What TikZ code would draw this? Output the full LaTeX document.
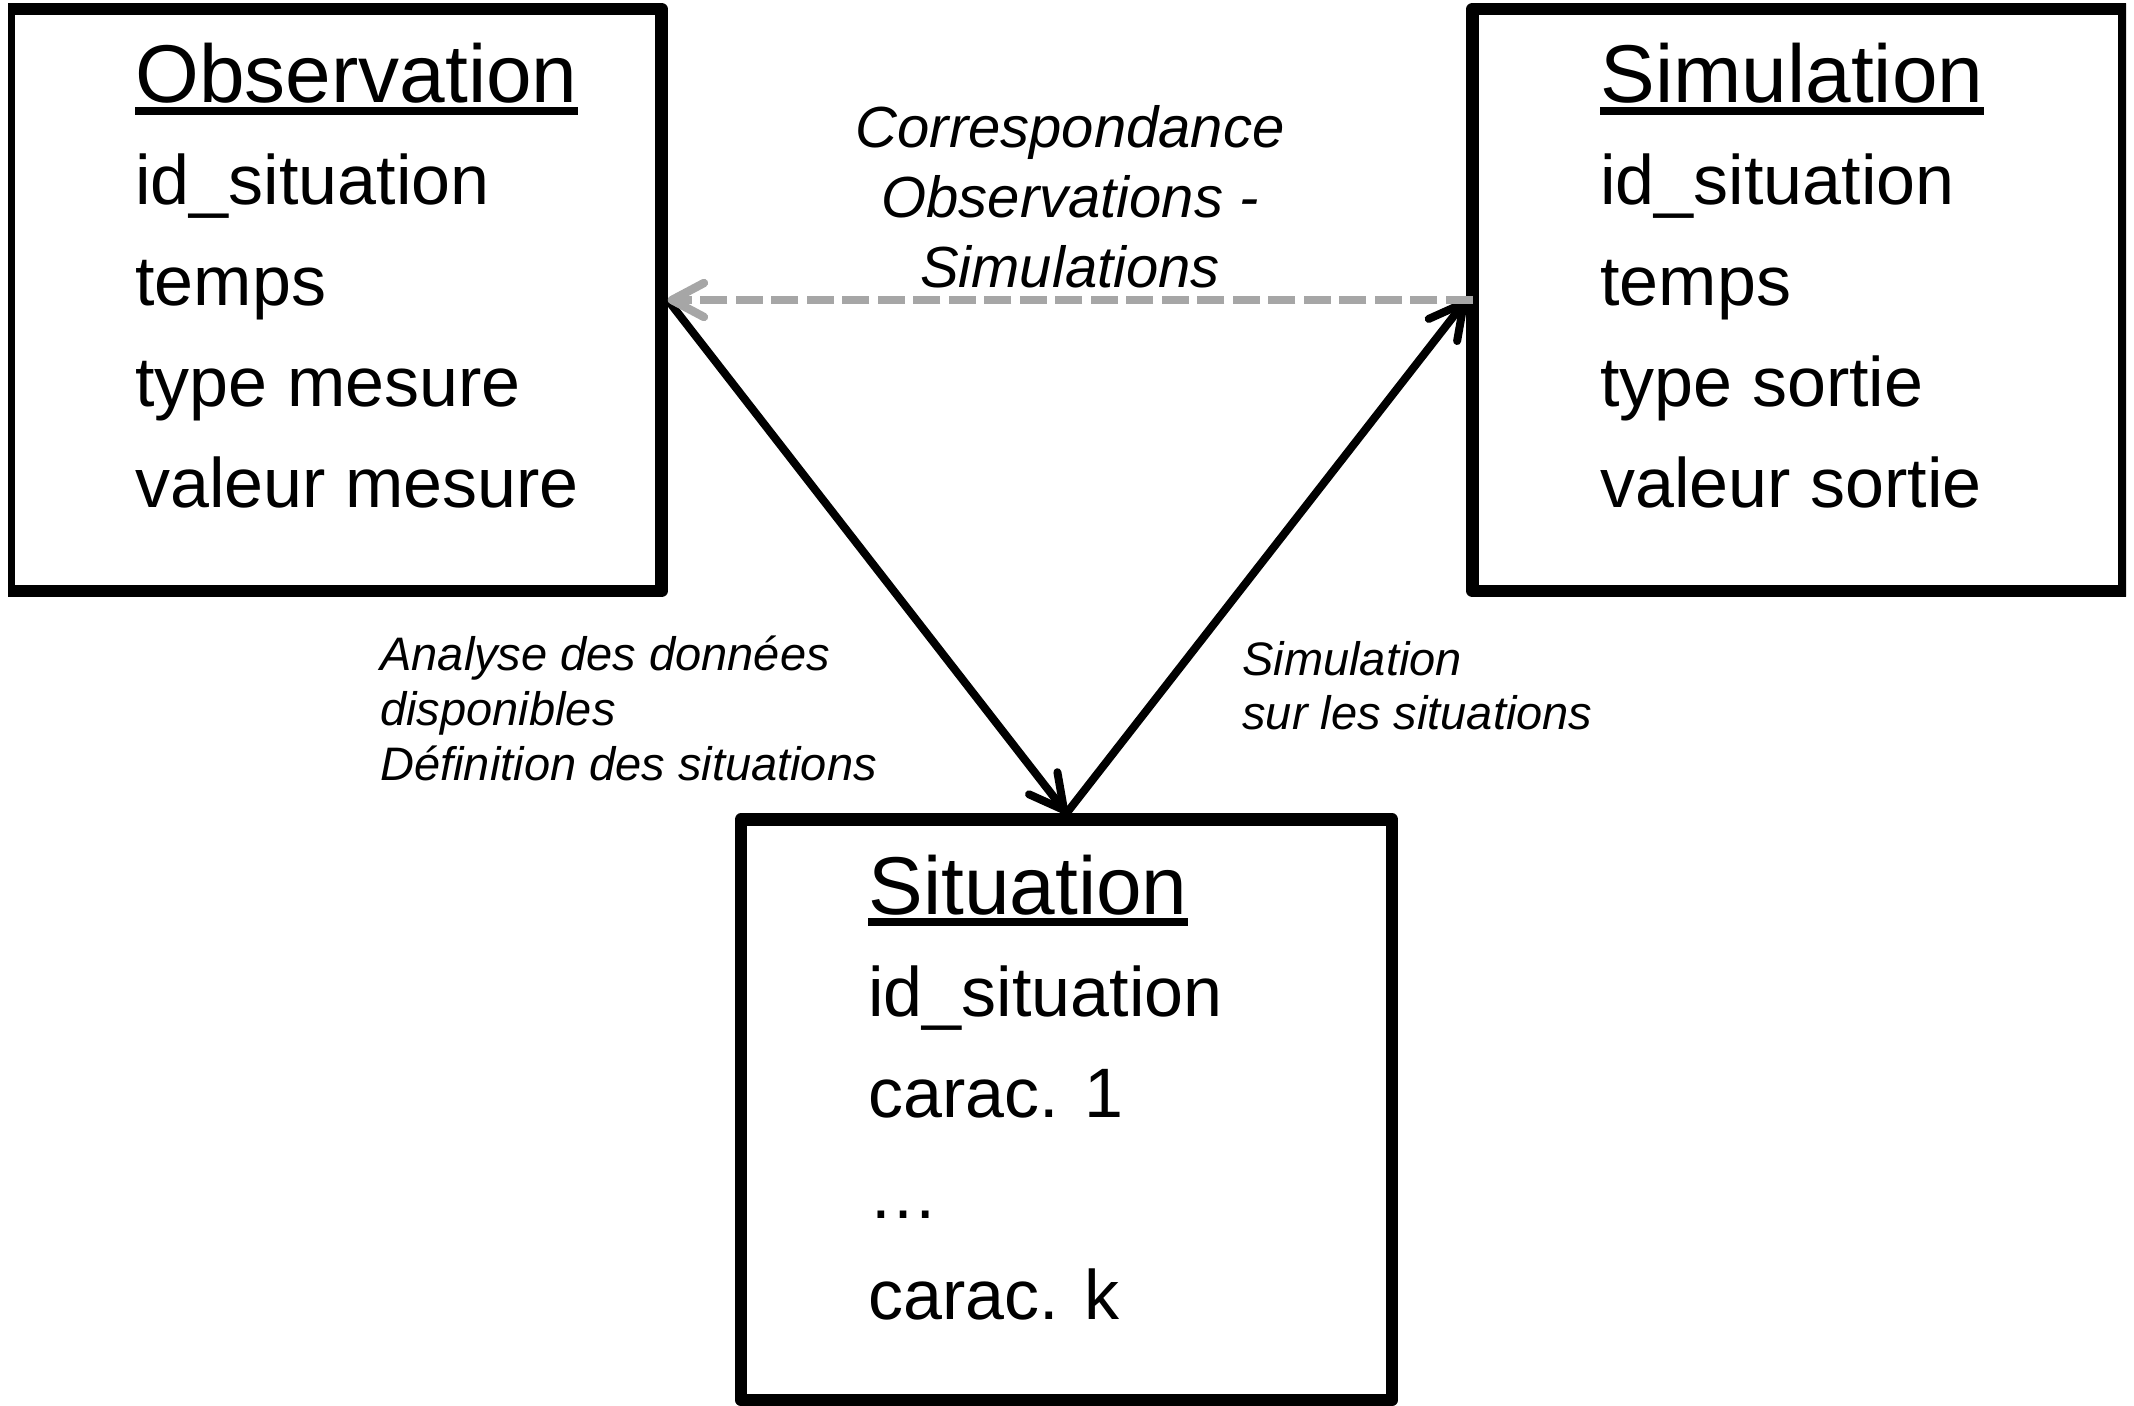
\documentclass[tikz,border=0pt]{standalone}
\usepackage{fontspec}
\setmainfont{Liberation Sans}
\usetikzlibrary{arrows.meta}
\definecolor{dashgray}{HTML}{A6A6A6}
\begin{document}
\begin{tikzpicture}[x=0.5pt,y=-0.5pt,
  box/.style={draw=black, line width=6.25pt, line join=round, inner sep=0pt},
  titletxt/.style={anchor=base west, inner sep=0pt, font=\fontsize{41pt}{49pt}\selectfont},
  attrtxt/.style={anchor=base west, inner sep=0pt, font=\fontsize{35pt}{42pt}\selectfont},
  corrtxt/.style={anchor=base, inner sep=0pt, font=\fontsize{29pt}{35pt}\selectfont\itshape},
  labtxt/.style={anchor=base west, inner sep=0pt, font=\fontsize{23.5pt}{28pt}\selectfont\itshape},
  uline/.style={line width=4pt},
  solidarrow/.style={draw=black, line width=4pt, -{Straight Barb[length=17pt,width=18pt,round]}},
  dasharrow/.style={draw=dashgray, line width=4.2pt, dash pattern=on 13.5pt off 4.25pt, -{Straight Barb[length=16pt,width=17pt,round]}}
]
\useasboundingbox (0,0) rectangle (2134,1406);
\begin{scope}
\clip (8,0) rectangle (2126,1406);
\node[box, minimum width=326.4pt, minimum height=291pt] (obs) at (335.1,300) {};
\node[box, minimum width=325.9pt, minimum height=291pt] (sim) at (1798.4,300) {};
\node[box, minimum width=325.5pt, minimum height=290.25pt] (sit) at (1066.5,1109.75) {};
\end{scope}

% Observation
\node[titletxt] (obsT) at (135,103) {Observation};
\draw[uline] ([yshift=-4pt]obsT.base west) -- ([yshift=-4pt]obsT.base east);
\node[attrtxt] (obsA) at (135,205) {id\_situation};
\node[attrtxt] (obsB) at (135,306) {temps};
\node[attrtxt] (obsC) at (135,407) {type mesure};
\node[attrtxt] (obsD) at (135,508) {valeur mesure};

% Simulation
\node[titletxt] (simT) at (1600,103) {Simulation};
\draw[uline] ([yshift=-4pt]simT.base west) -- ([yshift=-4pt]simT.base east);
\node[attrtxt] (simA) at (1600,205) {id\_situation};
\node[attrtxt] (simB) at (1600,306) {temps};
\node[attrtxt] (simC) at (1600,407) {type sortie};
\node[attrtxt] (simD) at (1600,508) {valeur sortie};

% Situation
\node[titletxt] (sitT) at (868,914) {Situation};
\draw[uline] ([yshift=-4pt]sitT.base west) -- ([yshift=-4pt]sitT.base east);
\node[attrtxt] (sitA) at (868,1016) {id\_situation};
\node[attrtxt] (sitB) at (868,1117) {carac. 1};
\node[attrtxt] (sitC) at (868,1218) {…};
\node[attrtxt] (sitD) at (868,1319) {carac. k};

% Labels
\node[corrtxt] (corr1) at (1070,148) {Correspondance};
\node[corrtxt] (corr2) at (1070,218) {Observations -};
\node[corrtxt] (corr3) at (1070,288) {Simulations};

\node[labtxt] (ana1) at (380,670) {Analyse des données};
\node[labtxt] (ana2) at (380,725) {disponibles};
\node[labtxt] (ana3) at (380,780) {Définition des situations};

\node[labtxt] (simL1) at (1242,675) {Simulation};
\node[labtxt] (simL2) at (1242,729) {sur les situations};

% Connectors
\draw[solidarrow] (obs.east) -- (sit.north);
\draw[solidarrow] (sit.north) -- (sim.west);
\draw[dasharrow, shorten <=-3.25pt] (sim.west) -- (obs.east);
\end{tikzpicture}
\end{document}
